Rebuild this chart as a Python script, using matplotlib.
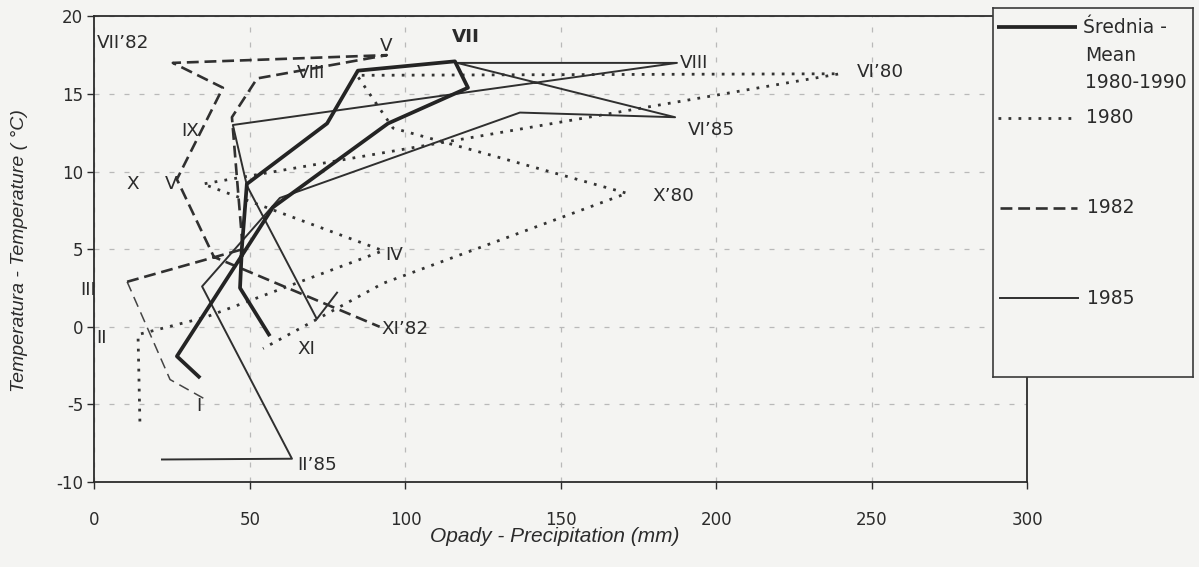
import matplotlib
matplotlib.use("Agg")
import matplotlib.pyplot as plt
from matplotlib.lines import Line2D

plt.rcParams["axes.unicode_minus"] = False

# ---- data: monthly precipitation (mm) and temperature (deg C) ----
months = ["I", "II", "III", "IV", "V", "VI", "VII", "VIII", "IX", "X", "XI", "XII"]

mean_precip = [56.4, 46.8, 47.4, 49.0, 74.8, 84.7, 115.9, 120.1, 94.4, 57.4, 26.5, 34.0]
mean_temp = [-0.6, 2.5, 5.1, 9.2, 13.1, 16.5, 17.1, 15.4, 13.1, 7.7, -1.9, -3.3]

precip_1980 = [14.6, 14.0, 35.5, 92.8, 34.9, 239.7, 84.4, 96.0, 124.9, 171.2, 92.8, 54.2]
temp_1980 = [-6.1, -0.5, 0.6, 4.9, 9.2, 16.3, 16.2, 12.8, 11.2, 8.6, 2.8, -1.4]

precip_1982 = [35.0, 24.3, 10.5, 47.7, 44.2, 52.3, 94.0, 25.2, 41.3, 26.5, 38.4, 91.7]
temp_1982 = [-4.6, -3.4, 2.9, 5.0, 13.5, 16.0, 17.5, 17.0, 15.4, 9.5, 4.5, 0.0]

precip_1985 = [21.7, 63.5, 34.6, 59.6, 136.8, 186.7, 116.6, 187.3, 44.5, 49.0, 71.5, 78.0]
temp_1985 = [-8.55, -8.5, 2.6, 8.3, 13.8, 13.5, 17.0, 17.0, 13.0, 9.1, 0.5, 2.2]

x_ticks = [0, 50, 100, 150, 200, 250, 300]
y_ticks = [-10, -5, 0, 5, 10, 15, 20]

# month annotations: (text, precipitation, temperature, horizontal alignment, bold)
month_labels = [
    ("VII’82", 0.8, 18.3, "left", False),
    ("V", 93.7, 18.1, "center", False),
    ("VII", 119.5, 18.7, "center", True),
    ("VIII", 69.5, 16.35, "center", False),
    ("VIII", 188.2, 17.0, "left", False),
    ("VI’80", 245.2, 16.4, "left", False),
    ("VI’85", 190.9, 12.65, "left", False),
    ("X’80", 179.3, 8.45, "left", False),
    ("IV", 93.4, 4.6, "left", False),
    ("XI’82", 92.4, -0.15, "left", False),
    ("XI", 65.4, -1.4, "left", False),
    ("II’85", 65.1, -8.9, "left", False),
    ("I", 33.6, -5.1, "center", False),
    ("II", 2.1, -0.7, "center", False),
    ("III", -2.1, 2.4, "center", False),
    ("X", 12.4, 9.2, "center", False),
    ("V", 24.6, 9.2, "center", False),
    ("IX", 30.7, 12.6, "center", False),
]

BG = "#f4f4f2"
INK = "#2b2b2b"

style_mean = dict(color="#242424", lw=2.7, solid_capstyle="butt")
style_1980 = dict(color="#333333", lw=2.0, linestyle=(0, (1, 2.6)))
style_1982 = dict(color="#303030", lw=1.9, linestyle=(0, (4.5, 2.2)))
style_1982_thin = dict(color="#444444", lw=1.1, linestyle=(0, (7, 4)))
style_1985 = dict(color="#2f2f2f", lw=1.4)

fig = plt.figure(figsize=(11.99, 5.67), dpi=100, facecolor=BG)
ax = fig.add_axes([0.0788, 0.1499, 0.7781, 0.8213], facecolor=BG)

ax.set_xlim(0, 300)
ax.set_ylim(-10, 20)
ax.set_xticks(x_ticks)
ax.set_yticks(y_ticks)
ax.tick_params(axis="both", direction="out", length=5, width=1, color=INK,
               labelsize=12, labelcolor=INK)
ax.tick_params(axis="x", pad=16)
ax.tick_params(axis="y", pad=3)
for lab in ax.get_xticklabels() + ax.get_yticklabels():
    lab.set_family("DejaVu Sans")

ax.grid(True, color="#b9b9b9", lw=0.9, linestyle=(0, (4, 8)))
ax.set_axisbelow(True)
for sp in ax.spines.values():
    sp.set_color(INK)
    sp.set_linewidth(1.3)

# series
ax.plot(precip_1985, temp_1985, **style_1985, zorder=3)
ax.plot(precip_1980, temp_1980, **style_1980, zorder=3)
ax.plot(precip_1982[:3], temp_1982[:3], **style_1982_thin, zorder=3)
ax.plot(precip_1982[2:], temp_1982[2:], **style_1982, zorder=3)
ax.plot(mean_precip, mean_temp, **style_mean, zorder=4)

for text, px, ty, ha, bold in month_labels:
    ax.text(px, ty, text, ha=ha, va="center", fontsize=13.2, color=INK,
            family="DejaVu Sans", fontweight="bold" if bold else "normal",
            clip_on=False, zorder=5)

# axis titles
fig.text(20 / 1199, 1 - 251 / 567, "Temperatura - Temperature ( °C)", rotation=90,
         ha="center", va="center", fontsize=14, style="italic",
         family="Liberation Sans", color=INK)
fig.text(555 / 1199, 1 - 537 / 567, "Opady - Precipitation (mm)",
         ha="center", va="center", fontsize=15, style="italic",
         family="Liberation Sans", color=INK)

# legend box
lax = fig.add_axes([993 / 1199, 1 - 377 / 567, 200 / 1199, 369 / 567], facecolor=BG)
lax.set_xlim(0, 1)
lax.set_ylim(0, 1)
lax.set_xticks([])
lax.set_yticks([])
for sp in lax.spines.values():
    sp.set_color("#3a3a3a")
    sp.set_linewidth(1.2)

legend_rows = [
    (style_mean, 0.02, 0.42, 0.948, ["Średnia -", "Mean", "1980-1990"], 0.45),
    (style_1980, 0.025, 0.40, 0.702, ["1980"], 0.465),
    (style_1982, 0.035, 0.42, 0.458, ["1982"], 0.47),
    (style_1985, 0.035, 0.425, 0.214, ["1985"], 0.47),
]
for st, x0, x1, yy, texts, tx in legend_rows:
    lax.add_line(Line2D([x0, x1], [yy, yy], **st))
    for k, t in enumerate(texts):
        lax.text(tx + (0.012 if k else 0), yy - k * 0.0755, t, ha="left", va="center",
                 fontsize=13.5, family="DejaVu Sans", color=INK)

fig.savefig("out.png", dpi=100, facecolor=BG)
